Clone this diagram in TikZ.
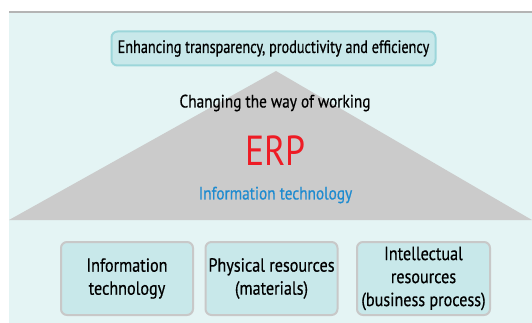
\documentclass[tikz,border=0pt]{standalone}
\usepackage{fontspec}
\setmainfont{PT Sans}[FakeStretch=0.79, FakeBold=0.5]
\newfontfamily\widefont{PT Sans}[FakeStretch=0.85, FakeBold=0.5]
\newfontfamily\erpfont{PT Sans}[FakeStretch=0.85]
\definecolor{bgteal}{HTML}{E4F4F4}
\definecolor{boxfill}{HTML}{C8E8EA}
\definecolor{topborder}{HTML}{9CD6DA}
\definecolor{boxborder}{HTML}{C8C8C8}
\definecolor{trigray}{HTML}{CBCBCB}
\definecolor{linegray}{HTML}{B4B4B4}
\definecolor{erpred}{HTML}{EE1C25}
\definecolor{itblue}{HTML}{1E8BD0}
\tikzset{
  basebox/.style={draw=boxborder, line width=2pt, fill=boxfill, rounded corners=6pt, align=center, inner sep=0pt, font=\widefont\fontsize{19}{23}\selectfont},
  topbox/.style={draw=topborder, line width=2pt, fill=boxfill, rounded corners=6pt, inner sep=0pt, font=\fontsize{18}{22}\selectfont},
  lbl/.style={inner sep=0pt, font=\widefont\fontsize{18}{22}\selectfont}
}
\begin{document}
\begin{tikzpicture}[x=1pt,y=-1pt]
\useasboundingbox (0,0) rectangle (532,323);
\fill[white] (0,0) rectangle (532,323);
\fill[bgteal] (9,12.5) rectangle (532,323);
\draw[linegray, line width=1.5pt] (9,12) -- (532,12);
\fill[trigray] (9,220) -- (276,71) -- (532,220) -- cycle;
\node[topbox, minimum width=324pt, minimum height=34pt] (top) at (273.5,48.5) {Enhancing transparency, productivity and efficiency};
\node[lbl] (change) at (275,103) {Changing the way of working};
\node[inner sep=0pt, text=erpred, font=\erpfont\fontsize{42}{42}\selectfont] (erp) at (275.5,151) {ERP};
\node[lbl, text=itblue] (itech) at (275.5,195) {Information technology};
\node[basebox, minimum width=132pt, minimum height=73pt] (b1) at (127,278.5) {Information\\technology};
\node[basebox, minimum width=132pt, minimum height=73pt] (b2) at (271.5,278.5) {Physical resources\\(materials)};
\node[basebox, minimum width=133pt, minimum height=73pt] (b3) at (423.5,278.5) {Intellectual\\resources\\(business process)};
\end{tikzpicture}
\end{document}
